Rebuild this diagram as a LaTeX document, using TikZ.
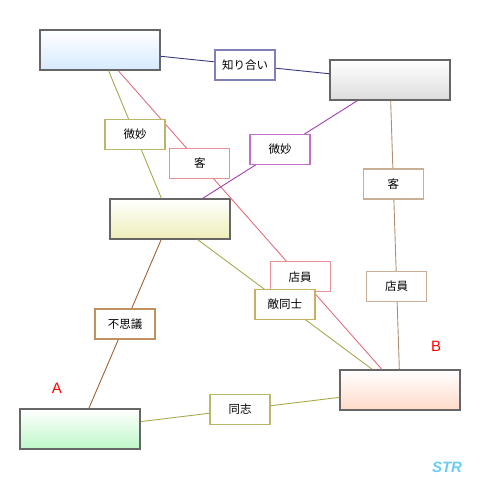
\documentclass[tikz,border=0pt]{standalone}
\usepackage{xcolor}
\usepackage{fontspec}
\newfontfamily\jp{Noto Sans CJK JP}
\newfontfamily\lat{Liberation Sans}
\usepackage{tikz}
\usetikzlibrary{positioning}
\definecolor{navyl}{HTML}{3A3A80}
\definecolor{navyb}{HTML}{8080B8}
\definecolor{olivel}{HTML}{A8A850}
\definecolor{oliveb}{HTML}{B8B868}
\definecolor{enemyb}{HTML}{C8B060}
\definecolor{redl}{HTML}{E07080}
\definecolor{redb}{HTML}{E89098}
\definecolor{purpl}{HTML}{A040B0}
\definecolor{purpb}{HTML}{C070C8}
\definecolor{tanl}{HTML}{B09070}
\definecolor{tanb}{HTML}{C8B098}
\definecolor{brownl}{HTML}{A06030}
\definecolor{brownb}{HTML}{C09060}
\definecolor{bluef}{HTML}{D6EAFF}
\definecolor{grayf}{HTML}{DCDCDC}
\definecolor{yellowf}{HTML}{EEEEB8}
\definecolor{greenf}{HTML}{BEF8C8}
\definecolor{pinkf}{HTML}{FFDAC8}
\tikzset{person/.style={draw=black!60, line width=1.3pt, minimum width=120pt, minimum height=40pt, inner sep=0pt, top color=white, bottom color=#1},
  rel/.style={draw=#1, line width=1.1pt, fill=white, minimum width=60pt, minimum height=30pt, inner sep=0pt, text=black, font=\jp\fontsize{11.5}{12}\selectfont}}

\begin{document}
\begin{tikzpicture}[x=1pt,y=-1pt]
    \useasboundingbox (0,0) rectangle (480,480);
    \node[person=bluef] (bluep) at (100,50) {};
    \node[person=grayf] (grayp) at (390,80) {};
    \node[person=yellowf] (yellowp) at (170,219) {};
    \node[person=greenf] (greenp) at (80,429) {};
    \node[person=pinkf] (pinkp) at (400,390) {};

    \draw[navyl, line width=0.9pt] (bluep) -- node[rel=navyb] {知り合い} (grayp);
    \draw[redl, line width=0.9pt] (bluep) -- node[rel=redb,pos=.31] {客} node[rel=redb,pos=.69] {店員} (pinkp);
    \draw[tanl, line width=0.9pt] (grayp) -- node[rel=tanb,pos=.31] {客} node[rel=tanb,pos=.69] {店員} (pinkp);
    \draw[olivel, line width=0.9pt] (bluep) -- node[rel=oliveb] {微妙} (yellowp);
    \draw[purpl, line width=0.9pt] (grayp) -- node[rel=purpb] {微妙} (yellowp);
    \draw[olivel, line width=0.9pt] (yellowp) -- node[rel=enemyb] {敵同士} (pinkp);
    \draw[brownl, line width=0.9pt] (yellowp) -- node[rel=brownb] {不思議} (greenp);
    \draw[olivel, line width=0.9pt] (greenp) -- node[rel=oliveb] {同志} (pinkp);

    \node[red, font=\lat\fontsize{15}{15}\selectfont] (labela) at (57,388) {A};
    \node[red, font=\lat\fontsize{15}{15}\selectfont] (labelb) at (436,346) {B};
    \node[cyan!60, font=\lat\bfseries\itshape\fontsize{15}{15}\selectfont] (sign) at (447,467) {STR};
\end{tikzpicture}
\end{document}
